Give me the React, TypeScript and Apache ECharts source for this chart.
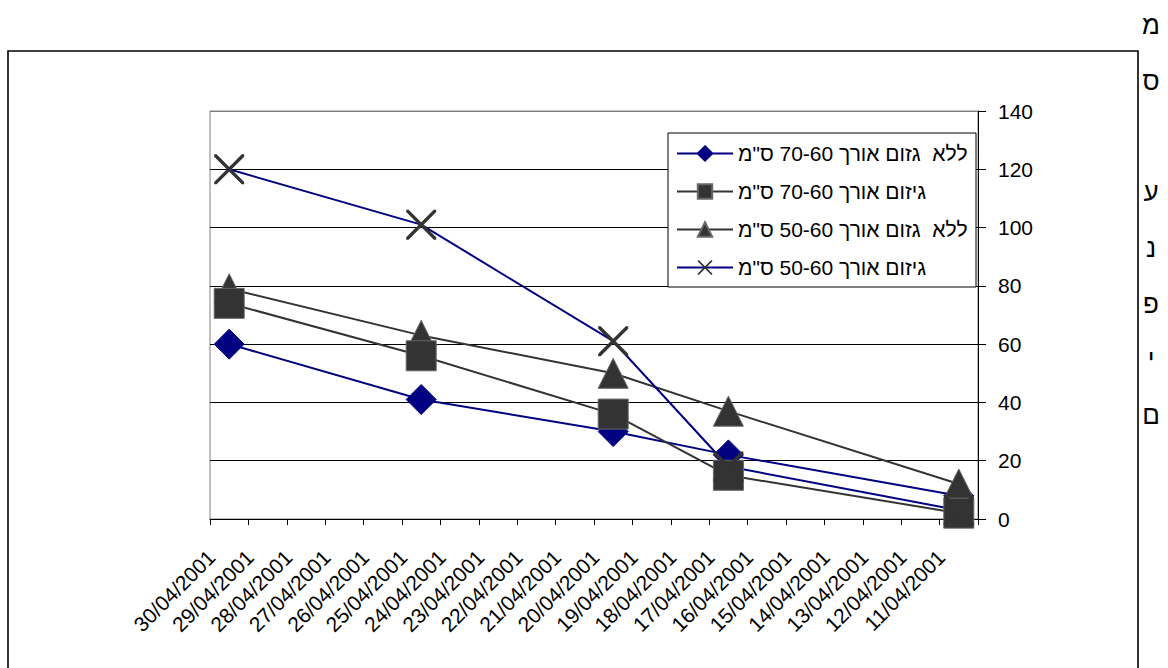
import React, { useEffect, useRef } from "react";
import * as echarts from "echarts";

const categories = [
  "30/04/2001", "29/04/2001", "28/04/2001", "27/04/2001", "26/04/2001",
  "25/04/2001", "24/04/2001", "23/04/2001", "22/04/2001", "21/04/2001",
  "20/04/2001", "19/04/2001", "18/04/2001", "17/04/2001", "16/04/2001",
  "15/04/2001", "14/04/2001", "13/04/2001", "12/04/2001", "11/04/2001",
];

const pointDates = ["30/04/2001", "25/04/2001", "20/04/2001", "17/04/2001", "11/04/2001"];

const seriesNames = [
  'ללא  גזום אורך 70-60 ס"מ',
  'גיזום אורך 70-60 ס"מ',
  'ללא  גזום אורך 50-60 ס"מ',
  'גיזום אורך 50-60 ס"מ',
];

const diamondValues = [60, 41, 30, 22, 8];
const squareValues = [74, 56, 36, 15, 2];
const triangleValues = [79, 63, 50, 37, 12];
const crossValues = [120, 101, 61, 18, 3];

const yMin = 0;
const yMax = 140;
const yInterval = 20;

const sideTitleLetters = ["מ", "ס", "", "ע", "נ", "פ", "י", "ם"];

const FONT = "'Liberation Sans', Arial, 'DejaVu Sans', sans-serif";
const NAVY = "#000080";
const DARK = "#333333";
const CROSS_PATH =
  "path://M0,0L8,0L100,92L100,100L92,100L0,8ZM100,0L100,8L8,100L0,100L0,92L92,0Z";

function pairs(values: number[]) {
  return pointDates.map((d, i) => [d, values[i]]);
}

export default function App() {
  const ref = useRef<HTMLDivElement | null>(null);

  useEffect(() => {
    if (!ref.current) return;
    const chart = echarts.init(ref.current, undefined, { renderer: "svg" });

    const letterGraphics = sideTitleLetters
      .map((ch, i) => ({ ch, i }))
      .filter((o) => o.ch !== "")
      .map((o) => ({
        type: "text",
        z: 10,
        x: 1151,
        y: 25 + o.i * 55.7,
        style: {
          text: o.ch,
          fontSize: 26,
          fontFamily: FONT,
          fill: "#000",
          align: "center",
          verticalAlign: "middle",
        },
      }));

    const option: any = {
      animation: false,
      backgroundColor: "#ffffff",
      grid: {
        left: 210,
        top: 111,
        width: 768,
        height: 408,
        show: true,
        borderColor: "#808080",
        borderWidth: 1,
        backgroundColor: "transparent",
      },
      xAxis: {
        type: "category",
        data: categories,
        boundaryGap: true,
        axisLine: { show: true, lineStyle: { color: "#000", width: 1 } },
        axisTick: { show: true, length: 6, interval: 0, lineStyle: { color: "#000" } },
        axisLabel: {
          interval: 0,
          rotate: 45,
          margin: 17,
          padding: [0, 25, 0, 0],
          fontSize: 21,
          fontFamily: FONT,
          color: "#000",
        },
        splitLine: { show: false },
      },
      yAxis: {
        type: "value",
        position: "right",
        min: yMin,
        max: yMax,
        interval: yInterval,
        axisLine: { show: true, lineStyle: { color: "#000", width: 1 } },
        axisTick: { show: true, length: 8, lineStyle: { color: "#000" } },
        axisLabel: { margin: 20, fontSize: 21, fontFamily: FONT, color: "#000" },
        splitLine: {
          show: true,
          lineStyle: {
            color: ["#000", "#000", "#000", "#000", "#000", "#000", "#000", "#808080"],
            width: 1,
          },
        },
      },
      legend: {
        orient: "vertical",
        left: 676,
        top: 143,
        padding: 0,
        itemWidth: 56,
        itemHeight: 18,
        itemGap: 17,
        z: 6,
        data: seriesNames,
        textStyle: { fontSize: 21, fontFamily: FONT, color: "#000", lineHeight: 18 },
        selectedMode: false,
      },
      graphic: [
        {
          type: "rect",
          z: 1,
          silent: true,
          shape: { x: 8, y: 51, width: 1130, height: 700 },
          style: { fill: "none", stroke: "#000", lineWidth: 1.6 },
        },
        {
          type: "rect",
          z: 5,
          silent: true,
          shape: { x: 668, y: 133, width: 308, height: 154 },
          style: { fill: "#fff", stroke: "#000", lineWidth: 1 },
        },
        ...letterGraphics,
      ],
      series: [
        {
          name: seriesNames[0],
          type: "line",
          data: pairs(diamondValues),
          symbol: "diamond",
          symbolSize: 30,
          lineStyle: { color: NAVY, width: 2 },
          itemStyle: { color: NAVY, borderColor: NAVY, borderWidth: 1 },
          emphasis: { disabled: true },
        },
        {
          name: seriesNames[2],
          type: "line",
          data: pairs(triangleValues),
          symbol: "triangle",
          symbolSize: 30,
          lineStyle: { color: DARK, width: 2 },
          itemStyle: { color: DARK, borderColor: "#666", borderWidth: 1 },
          emphasis: { disabled: true },
        },
        {
          name: seriesNames[1],
          type: "line",
          data: pairs(squareValues),
          symbol: "rect",
          symbolSize: 30,
          lineStyle: { color: DARK, width: 2 },
          itemStyle: { color: DARK, borderColor: "#666", borderWidth: 1 },
          emphasis: { disabled: true },
        },
        {
          name: seriesNames[3],
          type: "line",
          data: pairs(crossValues),
          symbol: CROSS_PATH,
          symbolSize: 30,
          lineStyle: { color: NAVY, width: 2 },
          itemStyle: { color: DARK },
          emphasis: { disabled: true },
        },
      ],
    };

    chart.setOption(option);
    return () => {
      chart.dispose();
    };
  }, []);

  return (
    <div
      ref={ref}
      style={{ position: "absolute", left: 0, top: 0, width: 1168, height: 668, background: "#fff" }}
    />
  );
}
